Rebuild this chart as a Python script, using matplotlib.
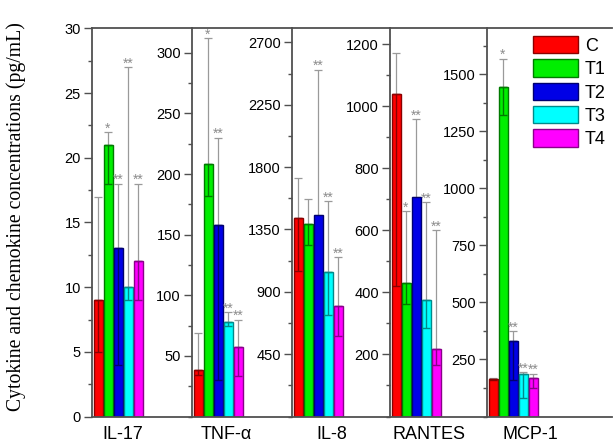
"""
Cytokine and chemokine concentrations for control (C) and treatments T1-T4,
one panel per marker, each with its own y scale.
"""

import matplotlib.pyplot as plt
from matplotlib.patches import Patch
from matplotlib.ticker import MultipleLocator

# Data
# ------------------------------------------------------------------------------

groups = ['C', 'T1', 'T2', 'T3', 'T4']
markers = ['IL-17', 'TNF-α', 'IL-8', 'RANTES', 'MCP-1']

il17_mean = [9, 21, 13, 10, 12]
il17_hi = [17, 22, 18, 27, 18]
il17_lo = [5, 18, 4, 9, 9]

tnf_mean = [38, 208, 158, 78, 57]
tnf_hi = [69, 312, 230, 86, 80]
tnf_lo = [34, 182, 30, 75, 33]

il8_mean = [1432, 1391, 1453, 1042, 801]
il8_hi = [1720, 1569, 2502, 1552, 1150]
il8_lo = [1047, 1239, 1453, 734, 582]

rantes_mean = [1038, 430, 707, 376, 219]
rantes_hi = [1172, 662, 959, 691, 600]
rantes_lo = [419, 363, 707, 284, 165]

mcp_mean = [165, 1444, 330, 188, 169]
mcp_hi = [169, 1568, 373, 194, 188]
mcp_lo = [160, 1320, 162, 82, 126]

il17_sig = ['', '*', '**', '**', '**']
tnf_sig = ['', '*', '**', '**', '**']
il8_sig = ['', '', '**', '**', '**']
rantes_sig = ['', '*', '**', '**', '**']
mcp_sig = ['', '*', '**', '**', '**']

# Plot
# ------------------------------------------------------------------------------

plt.rcParams['font.family'] = ['Liberation Sans', 'DejaVu Sans']

colors = ['#ff0000', '#00ee00', '#0000e6', '#00ffff', '#ff00ff']
edges = ['#8a0000', '#007a00', '#000070', '#008a8a', '#8a008a']

panels = [
    (il17_mean, il17_hi, il17_lo, il17_sig, (0, 30), 5, 2.5, 0, 2.5),
    (tnf_mean, tnf_hi, tnf_lo, tnf_sig, (0, 320), 50, 25, 50, 2.8),
    (il8_mean, il8_hi, il8_lo, il8_sig, (0, 2800), 450, 225, 450, 3.4),
    (rantes_mean, rantes_hi, rantes_lo, rantes_sig, (0, 1250), 200, 100, 200, 3.3),
    (mcp_mean, mcp_hi, mcp_lo, mcp_sig, (0, 1700), 250, 125, 250, 3.7),
]

W, H = 615, 448
lefts = [92, 192, 292, 390, 487, 612]
bottom, top = 416.5, 28.5

fig = plt.figure(figsize=(W / 100, H / 100), dpi=100)
axes_line = '#505050'

for i, (mean, hi, lo, sig, ylim, major, minor, first, xlab) in enumerate(panels):
    x0, x1 = lefts[i], lefts[i + 1]
    ax = fig.add_axes([x0 / W, 1 - bottom / H, (x1 - x0) / W, (bottom - top) / H])
    xs = range(len(groups))
    ax.bar(xs, mean, width=0.9, color=colors, edgecolor=edges, linewidth=1.0, zorder=2)
    for x, m, h, l, ec, s in zip(xs, mean, hi, lo, edges, sig):
        ax.errorbar(x, m, yerr=[[0], [h - m]], fmt='none', ecolor='#9a9a9a',
                    elinewidth=0.9, capsize=3, capthick=0.9, zorder=1)
        if l < m:
            ax.errorbar(x, m, yerr=[[m - l], [0]], fmt='none', ecolor=ec,
                        elinewidth=1.0, capsize=3, capthick=1.0, zorder=3)
        if s:
            ax.annotate(s, (x, h), xytext=(0, -2.5), textcoords='offset points',
                        ha='center', va='bottom', fontsize=10, color='#8c8c8c')
    ax.set_xlim(-0.6, -0.6 + (x1 - x0) / 10)
    ax.set_ylim(*ylim)
    ax.yaxis.set_major_locator(MultipleLocator(major))
    ax.yaxis.set_minor_locator(MultipleLocator(minor))
    ticks = [t for t in ax.get_yticks() if first <= t <= ylim[1]]
    ax.set_yticks(ticks)
    ax.set_yticklabels([str(int(t)) for t in ticks])
    ax.set_xticks([xlab])
    ax.set_xticklabels([markers[i]], fontsize=13)
    ax.tick_params(axis='x', length=0, pad=7)
    ax.tick_params(axis='y', which='major', direction='out', length=6, width=1.0,
                   labelsize=10.5, color=axes_line, pad=2)
    ax.tick_params(axis='y', which='minor', direction='out', length=3, width=1.0,
                   color=axes_line)
    ax.spines['right'].set_visible(False)
    for side in ['left', 'top', 'bottom']:
        ax.spines[side].set_color(axes_line)
        ax.spines[side].set_linewidth(1.3)
    ax.patch.set_alpha(0)
    last = ax

handles = [Patch(facecolor=c, edgecolor=e, linewidth=1.0) for c, e in zip(colors, edges)]
last.legend(handles, groups, loc='upper right', bbox_to_anchor=(1.05, 1.013),
            frameon=False, fontsize=13, handlelength=2.5, handleheight=1.1,
            labelspacing=0.25, handletextpad=0.35, borderaxespad=0.3)

fig.text(0.026, 0.516, 'Cytokine and chemokine concentrations (pg/mL)',
         rotation=90, ha='center', va='center', fontsize=14.2,
         family='Liberation Serif')

fig.savefig('out.png', dpi=100)
